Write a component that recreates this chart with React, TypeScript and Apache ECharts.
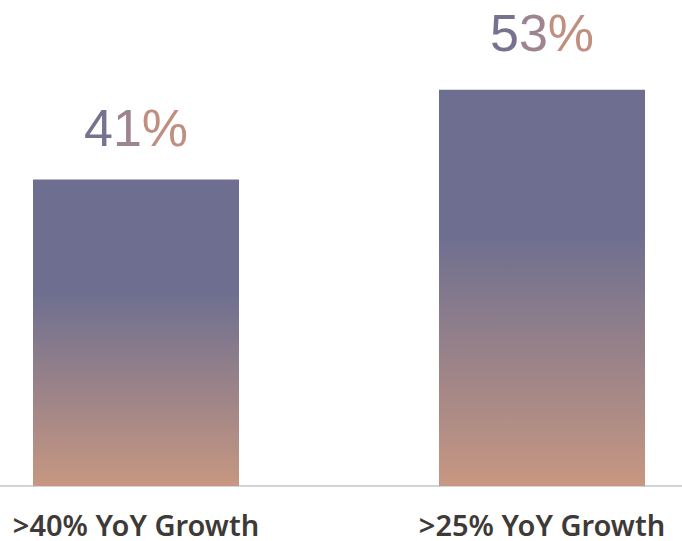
import React, { useEffect, useRef } from "react";
import * as echarts from "echarts";

const categories = [">40% YoY Growth", ">25% YoY Growth"];
const values = [41, 53];

const glyphColors = ["#787290", "#9E8491", "#BF8F80"];

export default function App() {
  const ref = useRef<HTMLDivElement>(null);
  useEffect(() => {
    if (!ref.current) return;
    const chart = echarts.init(ref.current, null, { renderer: "svg" });
    const barGrad = new echarts.graphic.LinearGradient(0, 0, 0, 1, [
      { offset: 0, color: "#6E6F90" },
      { offset: 0.37, color: "#6E6F90" },
      { offset: 1, color: "#C79781" },
    ]);
    const valueFont = {
      fontSize: 52,
      fontFamily: "Liberation Sans",
      fontWeight: "normal" as const,
    };
    const rich: Record<string, any> = {};
    glyphColors.forEach((c, i) => {
      rich["g" + i] = { ...valueFont, color: c };
    });
    const labelDistance = [25, 31];
    chart.setOption({
      animation: false,
      grid: [
        { left: 136, width: 406, top: 0, height: 486, containLabel: false },
        { left: 0, right: 0, top: 0, height: 486, containLabel: false },
      ],
      xAxis: [
        {
          type: "category",
          gridIndex: 0,
          data: categories,
          boundaryGap: false,
          axisLine: { show: false },
          axisTick: { show: false },
          axisLabel: {
            margin: 24,
            fontSize: 29,
            lineHeight: 28,
            fontWeight: 600,
            color: "#3D3A38",
            fontFamily: "Noto Sans",
          },
        },
        {
          type: "category",
          gridIndex: 1,
          data: [],
          axisLine: { show: true, lineStyle: { color: "#C4C4C4", width: 1.5 } },
          axisTick: { show: false },
          axisLabel: { show: false },
        },
      ],
      yAxis: [
        { type: "value", gridIndex: 0, min: 0, max: 65, show: false },
        { type: "value", gridIndex: 1, min: 0, max: 65, show: false },
      ],
      series: [
        {
          type: "bar",
          xAxisIndex: 0,
          yAxisIndex: 0,
          data: values.map((v, i) => ({
            value: v,
            label: { distance: labelDistance[i] },
          })),
          barWidth: 206,
          clip: false,
          itemStyle: { color: barGrad },
          label: {
            show: true,
            position: "top",
            ...valueFont,
            formatter: (p: any) => {
              const s = String(p.value) + "%";
              return s
                .split("")
                .map((ch, i) => `{g${Math.min(i, glyphColors.length - 1)}|${ch}}`)
                .join("");
            },
            rich,
          },
        },
      ],
    });
    return () => chart.dispose();
  }, []);
  return (
    <div
      ref={ref}
      style={{ position: "absolute", left: 0, top: 0, width: 682, height: 541 }}
    />
  );
}
